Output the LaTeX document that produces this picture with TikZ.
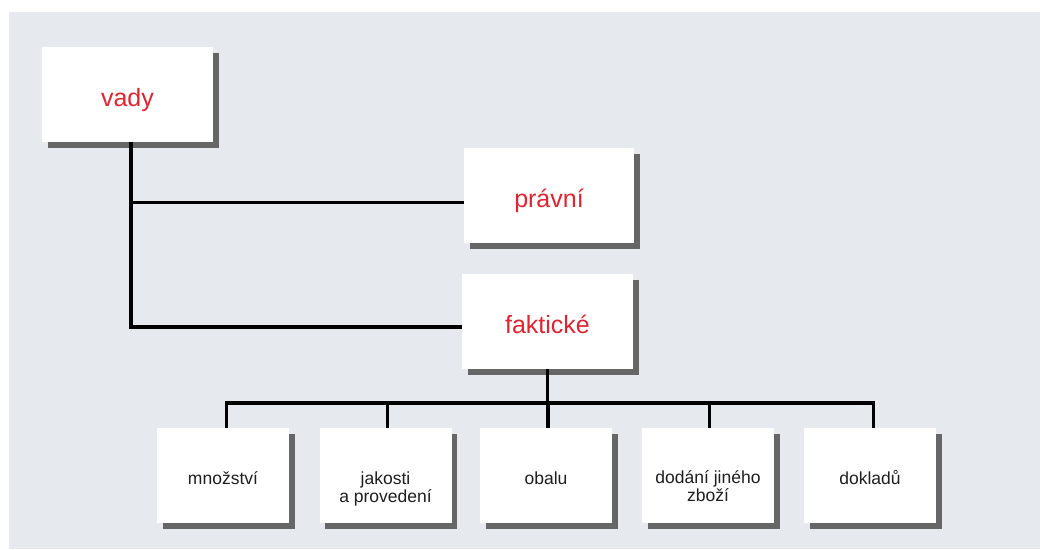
\documentclass[tikz,border=0pt]{standalone}
\usepackage{fontspec}
\setmainfont{Liberation Sans}
\usetikzlibrary{shadows}
\definecolor{bg}{RGB}{230,233,238}
\definecolor{shade}{RGB}{102,102,102}
\definecolor{vred}{RGB}{226,35,48}
\definecolor{txt}{RGB}{30,30,30}
\tikzset{
  box/.style={rectangle, fill=white, inner sep=0pt,
    drop shadow={shadow xshift=5.5pt, shadow yshift=-5.5pt, fill=shade, opacity=1}},
  bigbox/.style={box, minimum width=171pt, minimum height=95pt,
    font=\fontsize{25}{28}\selectfont, text=vred, text height=23pt, text depth=0pt},
  smallbox/.style={box, minimum width=132pt, minimum height=95pt},
  lbl/.style={font=\fontsize{17.5}{18}\selectfont, text=txt, align=center, inner sep=0pt},
  conn/.style={line width=3.3pt, black, line join=miter}
}
\begin{document}
\begin{tikzpicture}[x=1pt,y=-1pt]
\useasboundingbox (0,0) rectangle (1040,549);
\fill[bg] (9,12) rectangle (1040,549);
% upper boxes
\node[bigbox] (vady) at (127.5,94.5) {vady};
\node[bigbox, minimum width=170pt] (pravni) at (549,195.5) {právní};
\node[bigbox] (fakt) at (547.5,321.5) {faktické};
% bottom boxes
\node[smallbox, label={[lbl, yshift=-2.5pt]center:{množství}}] (b1) at (223,475.5) {};
\node[smallbox, label={[lbl, yshift=-13pt]center:{jakosti\\a provedení}}] (b2) at (385.5,475.5) {};
\node[smallbox, label={[lbl, yshift=-2.5pt]center:{obalu}}] (b3) at (546,475.5) {};
\node[smallbox, label={[lbl, yshift=-11pt]center:{dodání jiného\\zboží}}] (b4) at (708,475.5) {};
\node[smallbox, label={[lbl, yshift=-2.5pt]center:{dokladů}}] (b5) at (870,475.5) {};
% connectors
\draw[conn] ([xshift=3.5pt]vady.south) |- ([yshift=-7pt]pravni.west);
\draw[conn] ([xshift=3.5pt]vady.south) |- ([yshift=-5.5pt]fakt.west);
\coordinate (bus) at (547.5,403);
\draw[conn] (fakt.south) -- (bus);
\draw[conn] ([xshift=3.5pt]b1.north) |- (bus) -| ([xshift=3.5pt]b5.north);
\draw[conn] ([xshift=2pt]b2.north) -- ([xshift=2pt]b2.north |- bus);
\draw[conn] ([xshift=2pt]b3.north) -- ([xshift=2pt]b3.north |- bus);
\draw[conn] ([xshift=1.5pt]b4.north) -- ([xshift=1.5pt]b4.north |- bus);
\end{tikzpicture}
\end{document}
